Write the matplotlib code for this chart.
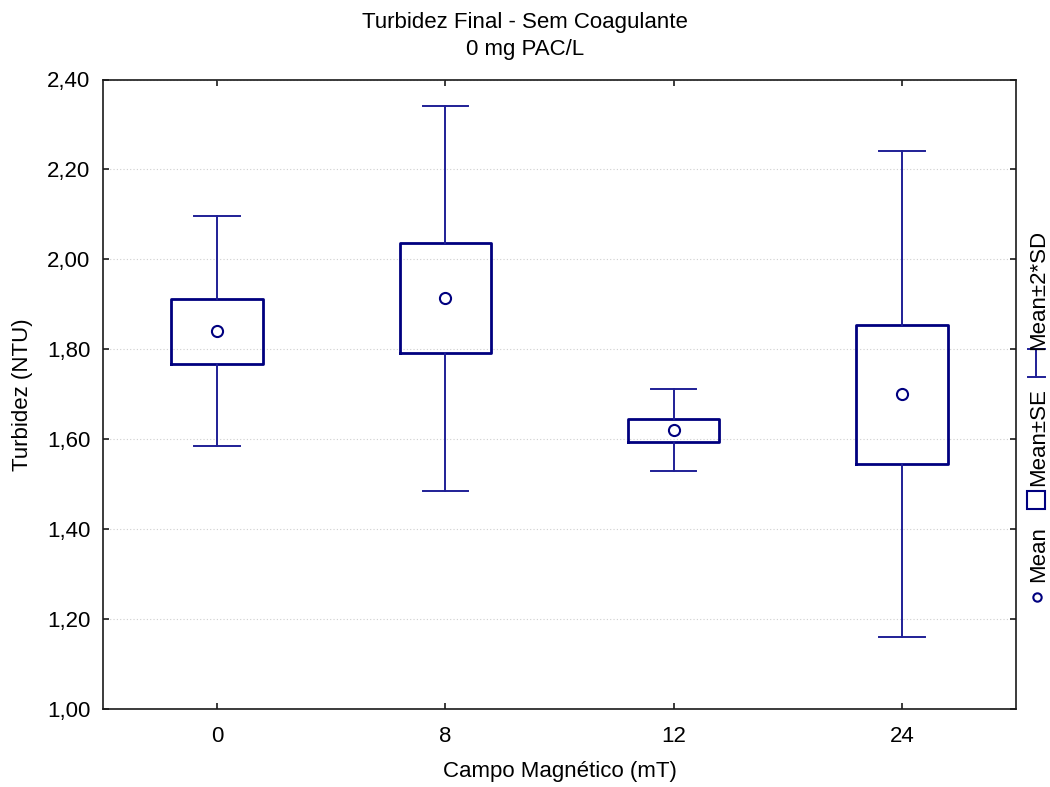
import matplotlib
matplotlib.use("Agg")
import matplotlib.pyplot as plt
from matplotlib.lines import Line2D
import numpy as np

plt.rcParams['font.family'] = ['Liberation Sans', 'DejaVu Sans']

# ---- data ----
categories = ['0', '8', '12', '24']
means = [1.841, 1.913, 1.620, 1.700]
se_low = [1.768, 1.791, 1.594, 1.545]
se_high = [1.912, 2.037, 1.645, 1.854]
sd2_low = [1.586, 1.485, 1.529, 1.161]
sd2_high = [2.096, 2.341, 1.712, 2.241]
yticks = [1.00, 1.20, 1.40, 1.60, 1.80, 2.00, 2.20, 2.40]

title_line1 = 'Turbidez Final - Sem Coagulante'
title_line2 = '0 mg PAC/L'
xlabel = 'Campo Magnético (mT)'
ylabel = 'Turbidez (NTU)'

W, H = 1050, 787
fig = plt.figure(figsize=(W / 100, H / 100), dpi=100)
ax = fig.add_axes([103 / W, 1 - 709 / H, (1016 - 103) / W, (709 - 79.5) / H])

BOX = '#00007f'
WHIS = '#1f1f96'

stats = []
for i, c in enumerate(categories):
    stats.append(dict(label=c, mean=means[i], med=means[i],
                      q1=se_low[i], q3=se_high[i],
                      whislo=sd2_low[i], whishi=sd2_high[i], fliers=[]))

ax.bxp(stats, positions=np.arange(len(categories)), widths=0.4,
       capwidths=0.2, showmeans=True, showfliers=False, patch_artist=False,
       boxprops=dict(color=BOX, linewidth=2.0),
       whiskerprops=dict(color=WHIS, linewidth=1.4),
       capprops=dict(color=WHIS, linewidth=1.4),
       medianprops=dict(linewidth=0),
       meanprops=dict(marker='o', markersize=8, markerfacecolor='white',
                      markeredgecolor=BOX, markeredgewidth=1.5),
       zorder=3)

ax.set_xlim(-0.5, len(categories) - 0.5)
ax.set_ylim(1.0, 2.4)
ax.set_yticks(yticks)
ax.set_yticklabels([f'{v:.2f}'.replace('.', ',') for v in yticks])
ax.set_xticks(np.arange(len(categories)))
ax.set_xticklabels(categories)

ax.yaxis.grid(True, linestyle=(0, (1, 2)), color='#cfcfcf', linewidth=0.8, zorder=0)
ax.set_axisbelow(True)

for s in ax.spines.values():
    s.set_linewidth(1.2)
    s.set_color('#1a1a1a')

ax.tick_params(axis='both', direction='in', length=4, width=1.2, color='#1a1a1a',
               labelsize=16, top=True, right=True)
ax.tick_params(axis='y', pad=9)
ax.tick_params(axis='x', pad=12)

ax.set_xlabel(xlabel, fontsize=16, labelpad=10)
ax.set_ylabel(ylabel, fontsize=16, labelpad=10)

fig.text(525 / W, 1 - 28 / H, title_line1, ha='center', va='baseline', fontsize=16)
fig.text(525 / W, 1 - 55 / H, title_line2, ha='center', va='baseline', fontsize=16)

# ---- rotated legend on the right ----
def px(x, y):
    return x / W, 1 - y / H

lx = 1037
# mean marker
x0, y0 = px(lx, 597)
fig.add_artist(Line2D([x0], [y0], transform=fig.transFigure, marker='o', markersize=6,
                      markerfacecolor='white', markeredgecolor=BOX, markeredgewidth=1.5,
                      linestyle='none'))
fig.text(*px(lx + 2, 554), 'Mean', rotation=90, ha='center', va='center', fontsize=16)
# box marker
x1, y1 = px(lx - 1, 500)
fig.add_artist(Line2D([x1], [y1], transform=fig.transFigure, marker='s', markersize=13,
                      markerfacecolor='white', markeredgecolor=BOX, markeredgewidth=1.5,
                      linestyle='none'))
fig.text(*px(lx + 2, 437), 'Mean±SE', rotation=90, ha='center', va='center', fontsize=16)
# whisker marker
ya, yb = 349, 377
xa, xb = 1028, 1045
for (xs, ys) in [([lx - 1, lx - 1], [ya, yb]), ([xa, xb], [ya, ya]), ([xa, xb], [yb, yb])]:
    fig.add_artist(Line2D([x / W for x in xs], [1 - y / H for y in ys],
                          transform=fig.transFigure, color=WHIS, linewidth=1.4))
fig.text(*px(lx + 2, 290), 'Mean±2*SD', rotation=90, ha='center', va='center', fontsize=16)

fig.savefig('out.png', dpi=100, facecolor='white')
